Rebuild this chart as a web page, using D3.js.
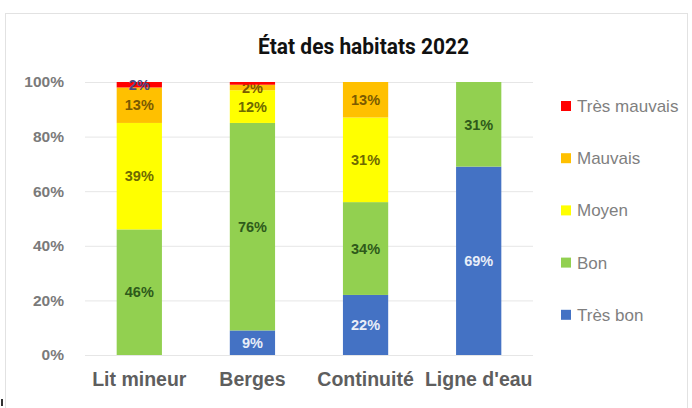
<!DOCTYPE html>
<html>
<head>
<meta charset="utf-8">
<script src="https://cdn.jsdelivr.net/npm/d3@7"></script>
<style>
  body { margin: 0; background: #fff; }
  svg { display: block; }
</style>
</head>
<body>
<svg id="chart" width="692" height="408"></svg>
<script>
// categories and series (percent), bottom to top
const categories = ["Lit mineur", "Berges", "Continuité", "Ligne d'eau"];
const seriesNames = ["Très bon", "Bon", "Moyen", "Mauvais", "Très mauvais"];
const tresBon = [0, 9, 22, 69];
const bon = [46, 76, 34, 31];
const moyen = [39, 12, 31, 0];
const mauvais = [13, 2, 13, 0];
const tresMauvais = [2, 1, 0, 0];
const yTicks = [0, 20, 40, 60, 80, 100];

const colors = ["#4472c4", "#92d050", "#ffff00", "#ffc000", "#ff0000"];
const labelColors = ["#e8eef8", "#2e5a1a", "#6e6a00", "#7a5a00", "#4a4a80"];

const values = [tresBon, bon, moyen, mauvais, tresMauvais];
const rows = categories.map((c, i) => {
    const r = { cat: c };
    seriesNames.forEach((s, k) => r[s] = values[k][i]);
    return r;
});
const stacked = d3.stack().keys(seriesNames)(rows);

const svg = d3.select("#chart");

// frame
svg.append("rect")
    .attr("x", 5.5).attr("y", 13.5)
    .attr("width", 682).attr("height", 400)
    .attr("fill", "none")
    .attr("stroke", "#e2e2e2");

const x = d3.scaleBand()
    .domain(categories)
    .range([85, 533])
    .paddingInner(0.6)
    .paddingOuter(0.28);

const y = d3.scaleLinear()
    .domain([0, 100])
    .range([355, 82]);

// gridlines
svg.append("g")
    .selectAll("line")
    .data(yTicks)
    .enter().append("line")
    .attr("x1", 85).attr("x2", 533)
    .attr("y1", d => y(d) + 0.5).attr("y2", d => y(d) + 0.5)
    .attr("stroke", "#e6e6e6");

// y axis labels
const yAxis = svg.append("g")
    .attr("transform", "translate(68,0)")
    .call(d3.axisLeft(y).tickValues(yTicks).tickFormat(d => d + "%").tickSize(0).tickPadding(4));
yAxis.select(".domain").remove();
yAxis.selectAll("text")
    .attr("font-family", "Liberation Sans, Arial, sans-serif")
    .attr("font-size", 15.5)
    .attr("font-weight", "bold")
    .attr("fill", "#7a7a7a");

// x axis labels
const xAxis = svg.append("g")
    .attr("transform", "translate(0,355)")
    .call(d3.axisBottom(x).tickSize(0).tickPadding(17));
xAxis.select(".domain").remove();
xAxis.selectAll("text")
    .attr("font-family", "Liberation Sans, Arial, sans-serif")
    .attr("font-size", 19.5)
    .attr("font-weight", "bold")
    .attr("fill", "#5e5e5e");

// bars
const layers = svg.append("g")
    .selectAll("g")
    .data(stacked)
    .enter().append("g")
    .attr("fill", (d, i) => colors[i]);

layers.selectAll("rect")
    .data(d => d)
    .enter().append("rect")
    .attr("x", d => x(d.data.cat))
    .attr("y", d => y(d[1]))
    .attr("width", x.bandwidth())
    .attr("height", d => y(d[0]) - y(d[1]));

// data labels (small 1% slices left unlabelled like the original)
layers.each(function(layer, i) {
    d3.select(this).selectAll("text")
        .data(layer.filter(d => d[1] - d[0] >= 2))
        .enter().append("text")
        .attr("x", d => x(d.data.cat) + x.bandwidth() / 2)
        .attr("y", d => y((d[0] + d[1]) / 2))
        .attr("dy", "0.36em")
        .attr("text-anchor", "middle")
        .attr("font-family", "Liberation Sans, Arial, sans-serif")
        .attr("font-size", 14.5)
        .attr("font-weight", "bold")
        .attr("fill", labelColors[i])
        .text(d => (d[1] - d[0]) + "%");
});

// title
svg.append("text")
    .attr("x", 258).attr("y", 54)
    .attr("textLength", 211)
    .attr("lengthAdjust", "spacingAndGlyphs")
    .attr("font-family", "Roboto, Inter, sans-serif")
    .attr("font-size", 22)
    .attr("font-weight", "bold")
    .attr("fill", "#111")
    .text("État des habitats 2022");

// legend (top to bottom: Très mauvais ... Très bon)
const legendItems = seriesNames.map((s, i) => ({ name: s, color: colors[i] })).reverse();
const legend = svg.append("g")
    .selectAll("g")
    .data(legendItems)
    .enter().append("g")
    .attr("transform", (d, i) => `translate(561,${106 + i * 52.2})`);

legend.append("rect")
    .attr("x", 0).attr("y", -5)
    .attr("width", 10).attr("height", 10)
    .attr("fill", d => d.color);

legend.append("text")
    .attr("x", 16).attr("y", 0)
    .attr("dy", "0.35em")
    .attr("font-family", "Liberation Sans, Arial, sans-serif")
    .attr("font-size", 17)
    .attr("fill", "#7f7f7f")
    .text(d => d.name);

// small dark mark at bottom-left of the scan
svg.append("rect")
    .attr("x", 1).attr("y", 399)
    .attr("width", 2).attr("height", 7)
    .attr("fill", "#333");
</script>
</body>
</html>
